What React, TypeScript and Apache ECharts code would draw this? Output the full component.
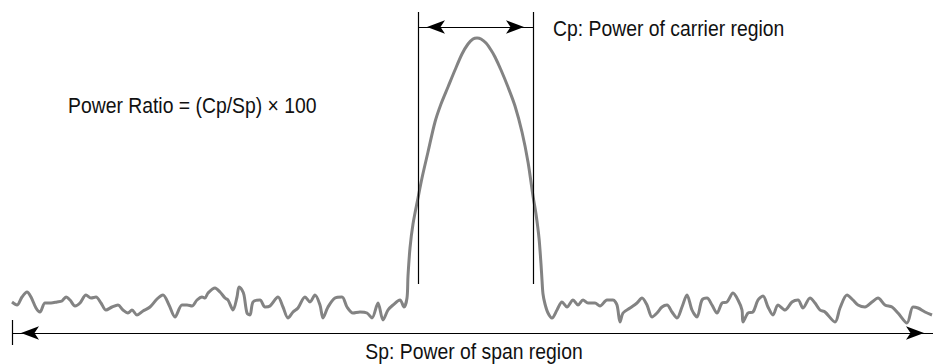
import { useEffect, useRef } from "react";
import * as echarts from "echarts";

// Frequency bins (horizontal) and trace level (vertical, higher = more power)
const leftNoiseFreq = [12, 17, 22, 27, 31, 36, 40, 45, 51, 57, 62, 66, 70, 75, 80, 86, 91, 96, 101, 106, 112, 118, 123, 128, 132, 137, 143, 150, 157, 163, 169, 175, 182, 187, 192, 197, 202, 205, 208, 215, 220, 225, 228, 233, 237, 239, 242, 244, 247, 250, 253, 260, 265, 270, 278, 283, 288, 293, 298, 305, 310, 315, 320, 323, 328, 335, 342, 347, 353, 360, 367, 372, 378, 383, 388, 393, 400, 404];
const leftNoiseLevel = [62, 59, 67, 72, 67, 56, 52, 61, 61, 62, 63, 67, 64, 58, 61, 69, 66, 67, 61, 54, 57, 59, 54, 51, 54, 49, 53, 57, 65, 69, 59, 47, 59, 59, 58, 64, 67, 66, 71, 76, 72, 66, 64, 54, 67, 77, 74, 69, 51, 49, 62, 64, 57, 58, 67, 57, 46, 52, 56, 67, 62, 69, 59, 46, 57, 66, 67, 57, 51, 52, 51, 46, 61, 44, 54, 59, 64, 57];

const carrierFreq = [407, 408, 410, 413, 418, 422, 428, 435, 441, 448, 455, 462, 468, 473, 477, 481, 486, 491, 495, 501, 508, 515, 522, 528, 533, 536, 539, 541, 542, 543];
const carrierLevel = [66, 88, 116, 140, 166, 186, 212, 242, 260, 277, 294, 310, 320, 325, 326, 325, 321, 314, 307, 294, 277, 258, 232, 202, 168, 150, 126, 100, 84, 70];

const rightNoiseFreq = [545, 548, 552, 557, 562, 567, 573, 578, 583, 588, 595, 600, 607, 613, 617, 620, 623, 630, 637, 642, 647, 652, 657, 662, 667, 672, 677, 682, 687, 692, 697, 702, 707, 712, 717, 722, 727, 733, 738, 742, 743, 748, 753, 758, 763, 768, 773, 778, 785, 792, 798, 803, 810, 815, 820, 825, 835, 840, 847, 853, 858, 865, 872, 878, 885, 892, 898, 907, 913, 918, 925, 932];
const rightNoiseLevel = [60, 51, 46, 54, 62, 57, 64, 59, 64, 61, 61, 58, 64, 64, 59, 42, 51, 56, 61, 66, 59, 47, 51, 57, 59, 52, 46, 57, 69, 54, 47, 64, 66, 59, 51, 61, 62, 71, 64, 54, 42, 51, 52, 64, 68, 57, 49, 59, 54, 62, 64, 56, 66, 61, 54, 52, 42, 56, 69, 64, 59, 57, 62, 66, 59, 57, 51, 41, 57, 56, 52, 49];

// Regions
const carrierBand = [418, 533];
const carrierMarkerTop = 352;
const carrierMarkerBottom = 80;
const carrierArrowLevel = 337;
const spanBand = [12, 933];
const spanArrowLevel = 31;
const spanTickRange = [44, 19];

// Texts
const carrierLabel = "Cp: Power of carrier region";
const spanLabel = "Sp: Power of span region";
const ratioLabel = "Power Ratio = (Cp/Sp) \u00d7 100";

const FONT = '"Liberation Sans", Arial, sans-serif';

export default function App() {
  const ref = useRef<HTMLDivElement>(null);

  useEffect(() => {
    document.body.style.margin = "0";
    if (!ref.current) return;
    const chart = echarts.init(ref.current, undefined, { renderer: "svg" });

    const freq = [...leftNoiseFreq, ...carrierFreq, ...rightNoiseFreq];
    const level = [...leftNoiseLevel, ...carrierLevel, ...rightNoiseLevel];
    const trace = freq.map((f, i) => [f, level[i]]);

    const arrow = { symbol: "arrow", symbolSize: [10, 18] };
    const textStyle = {
      fontFamily: FONT,
      fontSize: 22,
      fill: "#111",
      verticalAlign: "bottom",
    };

    chart.setOption({
      animation: false,
      grid: { left: 0, right: 0, top: 0, bottom: 0 },
      xAxis: { type: "value", min: 0, max: 933, show: false },
      yAxis: { type: "value", min: 0, max: 364, show: false },
      series: [
        {
          type: "line",
          data: trace,
          showSymbol: false,
          symbol: "none",
          smooth: 0.3,
          lineStyle: { color: "#838383", width: 3 },
          silent: true,
          markLine: {
            silent: true,
            symbol: "none",
            label: { show: false },
            emphasis: { disabled: true },
            lineStyle: { color: "#000", width: 1.2, type: "solid" },
            data: [
              [
                { coord: [carrierBand[0], carrierMarkerTop] },
                { coord: [carrierBand[0], carrierMarkerBottom] },
              ],
              [
                { coord: [carrierBand[1], carrierMarkerTop] },
                { coord: [carrierBand[1], carrierMarkerBottom] },
              ],
              [
                { coord: [carrierBand[0] + 9, carrierArrowLevel], ...arrow },
                { coord: [carrierBand[1] - 9, carrierArrowLevel], ...arrow },
              ],
              [
                { coord: [carrierBand[0], carrierArrowLevel] },
                { coord: [carrierBand[1], carrierArrowLevel] },
              ],
              [
                { coord: [spanBand[0] + 9, spanArrowLevel], ...arrow },
                { coord: [spanBand[1] - 9, spanArrowLevel], ...arrow },
              ],
              [
                { coord: [spanBand[0], spanArrowLevel] },
                { coord: [spanBand[1], spanArrowLevel] },
              ],
              [
                { coord: [spanBand[0], spanTickRange[0]] },
                { coord: [spanBand[0], spanTickRange[1]] },
              ],
            ],
          },
        },
      ],
      graphic: [
        {
          type: "text",
          x: 553,
          y: 39,
          scaleX: 0.88,
          style: { ...textStyle, text: carrierLabel, align: "left" },
        },
        {
          type: "text",
          x: 68,
          y: 116,
          scaleX: 0.88,
          style: { ...textStyle, text: ratioLabel, align: "left" },
        },
        {
          type: "text",
          x: 474,
          y: 362,
          scaleX: 0.88,
          style: { ...textStyle, text: spanLabel, align: "center" },
        },
      ],
    });

    return () => chart.dispose();
  }, []);

  return <div ref={ref} style={{ width: 933, height: 364 }} />;
}
